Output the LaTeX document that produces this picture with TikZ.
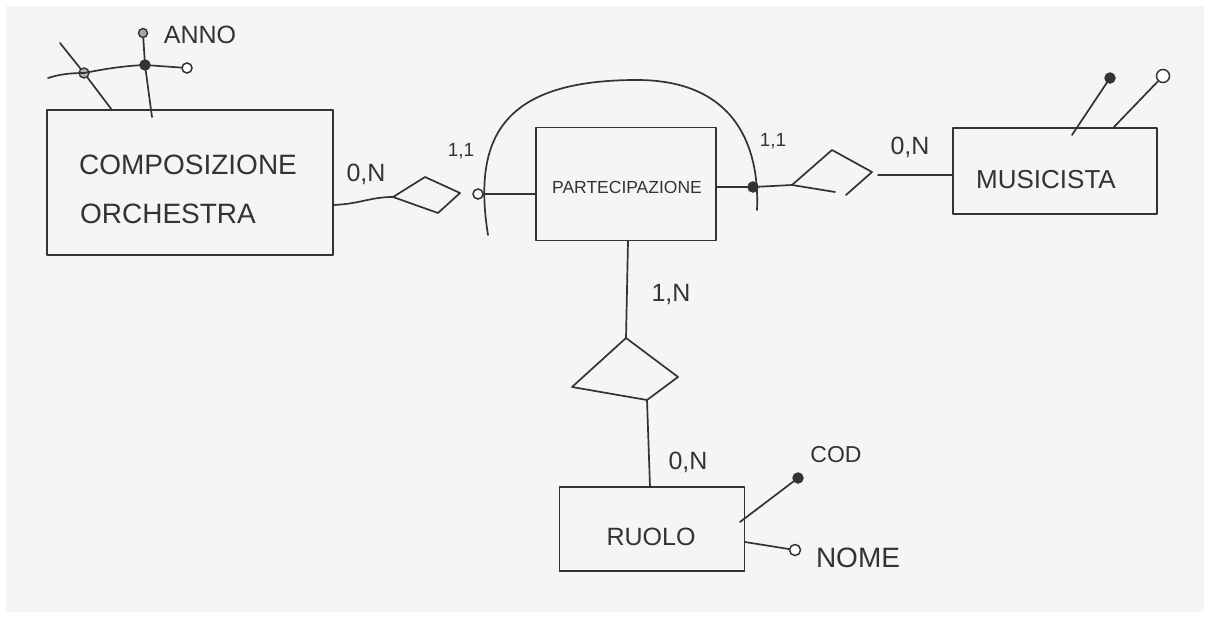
\documentclass[tikz,border=0pt]{standalone}
\usepackage{fontspec}
\setmainfont{Liberation Sans}
\begin{document}
\begin{tikzpicture}[x=1pt,y=-1pt,
  ink/.style={draw=black!80, line width=1.7pt, line cap=round, line join=round},
  lbl/.style={text=black!80, inner sep=0pt, font=\fontsize{#1}{#1}\selectfont},
  lbl/.default=22,
  entity/.style={ink, rectangle, inner sep=0pt},
  opendot/.style={circle, draw=black!80, line width=1.5pt, fill=white, inner sep=0pt, minimum size=#1},
  opendot/.default=10pt,
  fulldot/.style={circle, draw=black!80, line width=1.4pt, fill=black!80, inner sep=0pt, minimum size=#1},
  fulldot/.default=10pt]
\useasboundingbox (0,0) rectangle (1210,618);
\fill[white] (0,0) rectangle (1210,618);
\fill[black!4] (6,6) rectangle (1204,612);

% ---------- entities ----------
\node[entity, minimum width=286pt, minimum height=145pt] (comp) at (190,182.5) {};
\node[lbl=28] (compA) at (188,165) {COMPOSIZIONE};
\node[lbl=28] (compB) at (168,214) {ORCHESTRA};

\node[entity, minimum width=180pt, minimum height=113pt] (part) at (626,184) {};
\node[lbl=17.5] (partT) at (627,187) {PARTECIPAZIONE};

\node[entity, minimum width=204pt, minimum height=86pt] (mus) at (1055,171) {};
\node[lbl=26] (musT) at (1046,180) {MUSICISTA};

\node[entity, minimum width=185pt, minimum height=84pt] (ruolo) at (652,529) {};
\node[lbl=25] (ruoloT) at (651,537) {RUOLO};

% ---------- left relationship ----------
\coordinate (d1l) at (393,197);
\coordinate (d1t) at (425,177);
\coordinate (d1r) at (460,193);
\coordinate (d1b) at (438,213);
\draw[ink] (d1l) -- (d1t) -- (d1r) -- (d1b) -- cycle;
\coordinate (compR) at (333,205);
\draw[ink] (compR) .. controls (360,204) and (370,197) .. (d1l);
\node[opendot=10pt] (c1) at (478,194) {};
\draw[ink] (c1) -- (part.west |- c1);
\node[lbl=25] (n1) at (366,174) {0,N};
\node[lbl=19] (n2) at (461,151) {1,1};

% ---------- arc (identifier) ----------
\coordinate (arcA) at (488,235);
\coordinate (arcB) at (757,210);
\draw[ink] (arcA) .. controls (472,135) and (505,80) .. (637,80)
  .. controls (730,80) and (760,140) .. (arcB);

% ---------- right relationship ----------
\node[fulldot=10pt] (c2) at (753,187) {};
\draw[ink] (part.east |- c2) -- (c2);
\coordinate (d2l) at (792,185);
\coordinate (d2t) at (832,150);
\coordinate (d2r) at (872,172);
\coordinate (d2b) at (846,195);
\coordinate (d2g) at (835,192);
\draw[ink] (c2) -- (d2l) -- (d2t) -- (d2r) -- (d2b);
\draw[ink] (d2l) -- (d2g);
\coordinate (d2o) at (878,175);
\draw[ink] (d2o) -- (mus.west |- d2o);
\node[lbl=19] (n3) at (773,141) {1,1};
\node[lbl=25] (n4) at (910,147) {0,N};

% ---------- musicista attributes ----------
\node[fulldot=10pt] (m1) at (1110,78) {};
\node[opendot=13pt] (m2) at (1163,76) {};
\coordinate (m1b) at (1072,135);
\coordinate (m2b) at (1113,128);
\draw[ink] (m1b) -- (m1);
\draw[ink] (m2b) -- (m2);

% ---------- bottom relationship ----------
\coordinate (d3t) at (626,338);
\coordinate (d3r) at (678,377);
\coordinate (d3b) at (647,400);
\coordinate (d3l) at (572,387);
\draw[ink] (d3t) -- (d3r) -- (d3b) -- (d3l) -- cycle;
\draw[ink] (part.south) ++(2,0) coordinate (ps) (ps) -- (d3t);
\coordinate (ruoloTop) at (650,487);
\draw[ink] (d3b) -- (ruoloTop);
\node[lbl=25] (n5) at (671,294) {1,N};
\node[lbl=25] (n6) at (688,462) {0,N};

% ---------- ruolo attributes ----------
\node[fulldot=10pt] (cod) at (798,478) {};
\node[opendot=11pt] (nome) at (795,550) {};
\coordinate (codb) at (740,522);
\coordinate (nomeb) at (745,542);
\draw[ink] (codb) -- (cod);
\draw[ink] (nomeb) -- (nome);
\node[lbl=23] (codT) at (836,455) {COD};
\node[lbl=28] (nomeT) at (858,558) {NOME};

% ---------- composizione attributes ----------
\coordinate (cu0) at (48,78);
\node[fulldot=10pt] (a1) at (145,65) {};
\node[opendot=10pt] (a2) at (187,68) {};
\node[circle, draw=black!80, line width=1.4pt, fill=black!35, inner sep=0pt, minimum size=9pt] (a3) at (143,33) {};
\node[circle, draw=black!80, line width=1.4pt, fill=black!30, inner sep=0pt, minimum size=10pt] (a4) at (84,73) {};
\draw[ink] (cu0) .. controls (60,74) and (72,73) .. (a4.center) .. controls (100,70) and (120,66) .. (a1.center);
\draw[ink] (a1) -- (a2);
\coordinate (v0) at (152,117);
\draw[ink] (a3) -- (a1) -- (v0);
\coordinate (g0) at (60,43);
\coordinate (g1) at (112,110);
\draw[ink] (g0) -- (a4) -- (g1);
\node[lbl=25] (annoT) at (200,35) {ANNO};
\end{tikzpicture}
\end{document}
